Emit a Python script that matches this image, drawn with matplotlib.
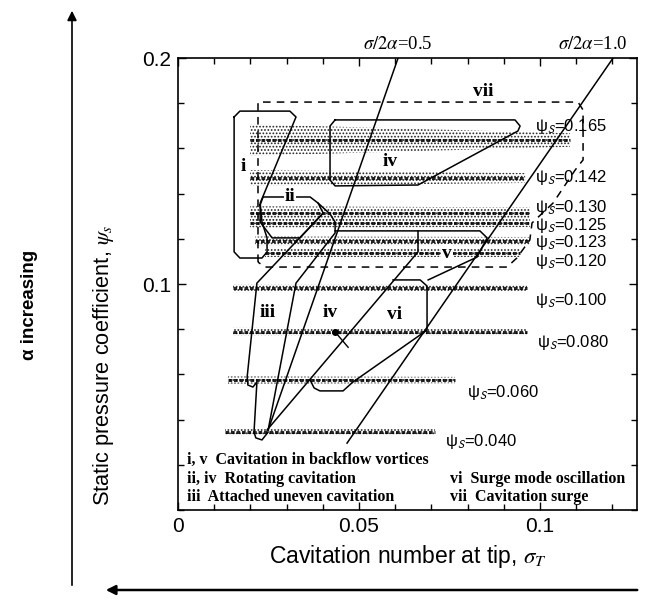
import numpy as np
import matplotlib.pyplot as plt
from matplotlib.ticker import MultipleLocator

plt.rcParams['font.family'] = ['Liberation Sans', 'DejaVu Sans']
plt.rcParams['mathtext.fontset'] = 'stix'
plt.rcParams['hatch.linewidth'] = 0.8

# measured bands (sigma_T range, mean psi, scatter half-width at left / right end)
band_labels = ['0.165', '0.142', '0.130', '0.125', '0.123', '0.120', '0.100', '0.080', '0.060', '0.040']
band_x0 = [0.0199, 0.0199, 0.0199, 0.0199, 0.0213, 0.0240, 0.0152, 0.0152, 0.0138, 0.0130]
band_x1 = [0.1083, 0.0959, 0.0972, 0.0972, 0.0972, 0.0945, 0.0964, 0.0964, 0.0765, 0.0710]
band_psi = [0.1637, 0.1469, 0.1314, 0.1270, 0.1190, 0.1137, 0.0982, 0.0788, 0.0575, 0.0345]
band_hw0 = [0.0070, 0.0035, 0.0030, 0.0020, 0.0020, 0.0018, 0.0018, 0.0018, 0.0016, 0.0015]
band_hw1 = [0.0030, 0.0022, 0.0025, 0.0018, 0.0018, 0.0018, 0.0015, 0.0015, 0.0014, 0.0014]

# where the psi_s labels sit
lab_x = [0.0986, 0.0986, 0.0986, 0.0986, 0.0986, 0.0986, 0.0986, 0.0991, 0.0798, 0.0738]
lab_y = [0.1695, 0.1473, 0.1338, 0.1260, 0.1182, 0.1100, 0.0929, 0.0739, 0.0518, 0.0301]

# sigma/2alpha = const lines
line05_x = [0.0608, 0.0249]
line05_y = [0.2000, 0.0354]
line10_x = [0.1202, 0.0467]
line10_y = [0.2000, 0.0296]

# region boundaries (sigma_T, psi_s)
region_i = [(0.0155, 0.1739), (0.0171, 0.1765), (0.0309, 0.1765), (0.0326, 0.1739), (0.0227, 0.1358),
            (0.0232, 0.1274), (0.0246, 0.1204), (0.0246, 0.1142), (0.0232, 0.1115), (0.0171, 0.1115),
            (0.0155, 0.1142), (0.0155, 0.1739)]
region_ii = [(0.0227, 0.1350), (0.0235, 0.1385), (0.0365, 0.1385), (0.0387, 0.1358), (0.0401, 0.1314),
             (0.0337, 0.1204), (0.0260, 0.1204), (0.0227, 0.1274), (0.0227, 0.1350)]
region_iii = [(0.0401, 0.1314), (0.0218, 0.1004), (0.0191, 0.0588), (0.0193, 0.0553), (0.0207, 0.0544),
              (0.0218, 0.0566), (0.0210, 0.0345), (0.0215, 0.0319), (0.0232, 0.0310), (0.0249, 0.0345)]
line_b = [(0.0249, 0.0354), (0.0326, 0.1004), (0.0434, 0.1226), (0.0434, 0.1274), (0.0420, 0.1310),
          (0.0387, 0.1358)]
line_c = [(0.0246, 0.0354), (0.0663, 0.1142), (0.0663, 0.1235)]
region_v = [(0.0434, 0.1235), (0.0834, 0.1235), (0.0854, 0.1204), (0.0826, 0.1119), (0.0691, 0.1018)]
region_vi = [(0.0594, 0.1018), (0.0669, 0.1018), (0.0688, 0.0991), (0.0688, 0.0796), (0.0483, 0.0566),
             (0.0456, 0.0527), (0.0392, 0.0527), (0.0376, 0.0540), (0.0365, 0.0575)]
region_iv = [(0.0434, 0.1726), (0.0931, 0.1726), (0.0945, 0.1699), (0.0939, 0.1677), (0.0663, 0.1438),
             (0.0434, 0.1434), (0.0420, 0.1460), (0.0420, 0.1699), (0.0434, 0.1726)]
region_vii = [(0.0221, 0.1097), (0.0221, 0.1805), (0.1105, 0.1805), (0.1119, 0.1770), (0.1119, 0.1549),
              (0.1097, 0.1504), (0.1036, 0.1358), (0.0978, 0.1270), (0.0972, 0.1195), (0.0936, 0.1115),
              (0.0909, 0.1075), (0.0240, 0.1075), (0.0221, 0.1097)]

region_names = ['i', 'ii', 'iii', 'iv', 'iv', 'v', 'vi', 'vii']
region_lx = [0.0180, 0.0309, 0.0249, 0.0586, 0.0420, 0.0743, 0.0599, 0.0843]
region_ly = [0.1522, 0.1385, 0.0876, 0.1540, 0.0876, 0.1137, 0.0863, 0.1850]

legend_left = ['i, v  Cavitation in backflow vortices', 'ii, iv  Rotating cavitation',
               'iii  Attached uneven cavitation']
legend_right = ['', 'vi  Surge mode oscillation', 'vii  Cavitation surge']
legend_y = [0.0221, 0.0137, 0.0058]

fig = plt.figure(figsize=(6.48, 6.01), dpi=100)
ax = fig.add_axes([178 / 648, 1 - 510 / 601, 459 / 648, 452 / 601])

for i in range(len(band_psi)):
    c = band_psi[i]
    ax.fill_between([band_x0[i], band_x1[i]], [c - band_hw0[i], c - band_hw1[i]],
                    [c + band_hw0[i], c + band_hw1[i]], facecolor='none', edgecolor='#222222',
                    hatch='.....', linewidth=0)
    ax.plot([band_x0[i], band_x1[i]], [c, c], color='black', lw=2.2, dashes=(1.2, 0.6), alpha=0.85)
    ax.text(lab_x[i], lab_y[i], 'ψ$_{\\mathsf{S}}$=' + band_labels[i], fontsize=12,
            ha='left', va='center')

ax.plot(line05_x, line05_y, color='black', lw=1.1)
ax.plot(line10_x, line10_y, color='black', lw=1.1)
ax.text(line05_x[0], 0.2058, r'$\sigma/2\alpha$=0.5', fontsize=13.5, family='Liberation Serif',
        ha='center', va='center', clip_on=False)
ax.text(line10_x[0] - 0.0056, 0.2058, r'$\sigma/2\alpha$=1.0', fontsize=13.5, family='Liberation Serif',
        ha='center', va='center', clip_on=False)

for shape in [region_i, region_ii, region_iii, line_b, line_c, region_v, region_vi, region_iv]:
    xs, ys = zip(*shape)
    ax.plot(xs, ys, color='black', lw=1.1)
xs, ys = zip(*region_vii)
ax.plot(xs, ys, color='black', lw=1.1, dashes=(5, 4))

ax.plot([0.0434], [0.0788], 'o', color='black', ms=4)
ax.plot([0.0434, 0.0470], [0.0788, 0.0720], color='black', lw=1.0)

for name, x, y in zip(region_names, region_lx, region_ly):
    ax.text(x, y, name, fontsize=14, fontweight='bold', family='Liberation Serif',
            ha='center', va='center', bbox=dict(facecolor='white', edgecolor='none', pad=0.5))

for txt, y in zip(legend_left, legend_y):
    ax.text(0.0025, y, txt, fontsize=11.5, fontweight='bold', family='Liberation Serif', va='center')
for txt, y in zip(legend_right, legend_y):
    ax.text(0.0751, y, txt, fontsize=11.5, fontweight='bold', family='Liberation Serif', va='center')

ax.set_xlim(0, 0.1268)
ax.set_ylim(0, 0.2)
ax.set_xticks([0, 0.05, 0.1])
ax.set_xticklabels(['0', '0.05', '0.1'])
ax.set_yticks([0.1, 0.2])
ax.set_yticklabels(['0.1', '0.2'])
ax.xaxis.set_minor_locator(MultipleLocator(0.01))
ax.yaxis.set_minor_locator(MultipleLocator(0.02))
ax.tick_params(which='both', direction='in', top=True, right=True, labelsize=15, width=1.0)
ax.tick_params(which='major', length=6, pad=5)
ax.tick_params(which='minor', length=4)
for s in ax.spines.values():
    s.set_linewidth(1.2)

ax.set_xlabel(r'Cavitation number at tip, $\sigma_T$', fontsize=16.5)
ax.set_ylabel(r'Static pressure coefficient, $\psi_s$', fontsize=15.7)
ax.xaxis.set_label_coords(0.5, -0.072)
ax.yaxis.set_label_coords(-0.135, 0.32)

fig.text(30 / 648, 1 - 305 / 601, 'α increasing', rotation=90, fontsize=13.5, fontweight='bold',
         ha='center', va='center')
ax.annotate('', xy=(72 / 648, 1 - 8 / 601), xytext=(72 / 648, 1 - 588 / 601),
            xycoords='figure fraction', textcoords='figure fraction',
            arrowprops=dict(arrowstyle='-|>', color='black', lw=1.2, mutation_scale=14))
ax.annotate('', xy=(103 / 648, 1 - 590 / 601), xytext=(640 / 648, 1 - 590 / 601),
            xycoords='figure fraction', textcoords='figure fraction',
            arrowprops=dict(arrowstyle='-|>', color='black', lw=1.8, mutation_scale=14))

fig.savefig('out.png', dpi=100)
